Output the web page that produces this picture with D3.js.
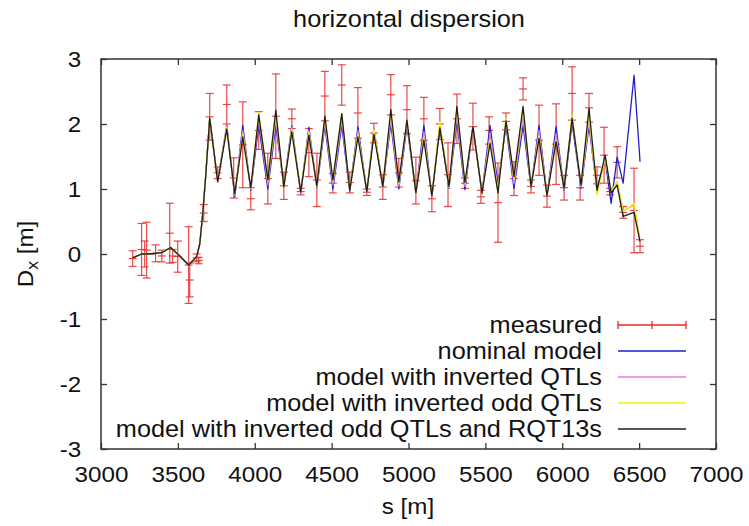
<!DOCTYPE html>
<html>
<head>
<meta charset="utf-8">
<script src="https://cdn.jsdelivr.net/npm/d3@7"></script>
<style>
  body { margin: 0; background: #fff; }
  text { font-family: "Liberation Sans", Arial, sans-serif; fill: #111; }
</style>
</head>
<body>
<script>
"use strict";

// s positions of the model optics (m)
var sModel = [3206, 3264, 3316, 3395, 3453, 3512, 3570, 3622, 3642, 3661, 3681,
  3707, 3759, 3818, 3870, 3922, 3974, 4026, 4085, 4137, 4189,
  4241, 4299, 4352, 4404, 4456, 4508, 4566, 4618, 4671, 4729,
  4775, 4833, 4885, 4937, 4990, 5048, 5100, 5152, 5204, 5263,
  5315, 5367, 5419, 5478, 5530, 5582, 5634, 5686, 5745, 5797,
  5849, 5901, 5960, 6012, 6064, 6122, 6174, 6226, 6279, 6318,
  6357, 6396, 6467, 6506];

// upstream part, identical for all models
var dxUpstream = [-0.06, 0.0, 0.0, 0.02, 0.1, -0.03, -0.17, -0.04, 0.15, 0.6, 1.2];

var dxNominal = dxUpstream.concat([
  2.09, 1.13, 1.98, 0.88, 1.98, 0.98, 1.98, 1.0, 1.98, 1.05,
  1.97, 0.94, 1.95, 1.02, 1.98, 1.0, 1.98, 0.97, 1.96, 0.95,
  1.93, 1.03, 2.0, 1.0, 1.98, 0.94, 1.98, 0.88, 1.97, 1.01,
  2.05, 0.99, 1.96, 0.93, 1.98, 1.07, 1.98, 1.01, 1.98, 1.02,
  1.98, 0.9, 1.96, 0.98, 2.02, 1.01, 1.97, 0.99, 1.45, 0.78,
  1.49, 1.09, 2.75, 1.42]);

var dxInvQTL = dxUpstream.concat([
  2.09, 1.12, 1.96, 0.9, 1.9, 1.0, 2.08, 1.06, 2.08, 1.04,
  1.95, 0.95, 1.9, 1.03, 2.04, 1.06, 2.06, 0.98, 1.9, 0.95,
  1.93, 1.03, 2.08, 1.04, 2.02, 0.94, 1.88, 0.89, 2.0, 1.02,
  2.14, 1.04, 1.96, 0.93, 1.85, 1.0, 2.04, 1.08, 2.1, 1.03,
  1.9, 0.9, 1.85, 0.99, 2.08, 1.03, 2.05, 0.95, 1.47, 0.95,
  1.1, 0.66, 0.76, 0.2]);

var dxInvOdd = dxUpstream.concat([
  2.09, 1.12, 1.95, 0.92, 1.85, 1.01, 2.18, 1.12, 2.15, 1.02,
  1.92, 0.97, 1.88, 1.04, 2.10, 1.12, 2.15, 0.99, 1.84, 0.96,
  1.92, 1.03, 2.17, 1.08, 2.06, 0.93, 1.80, 0.90, 2.04, 1.03,
  2.24, 1.08, 1.97, 0.94, 1.75, 0.96, 2.09, 1.15, 2.22, 1.04,
  1.82, 0.91, 1.76, 1.0, 2.14, 1.05, 2.14, 0.91, 1.48, 0.96,
  1.12, 0.65, 0.78, 0.21]);

var dxInvOddRQT = dxUpstream.concat([
  2.09, 1.11, 1.92, 0.93, 1.80, 1.02, 2.14, 1.14, 2.21, 1.03,
  1.88, 0.96, 1.83, 1.05, 2.12, 1.14, 2.16, 0.98, 1.80, 0.96,
  1.84, 1.04, 2.22, 1.11, 2.06, 0.94, 1.75, 0.90, 1.94, 1.04,
  2.27, 1.10, 1.96, 0.94, 1.70, 0.94, 2.05, 1.19, 2.27, 1.04,
  1.78, 0.90, 1.73, 1.01, 2.09, 1.06, 2.24, 0.98, 1.52, 0.94,
  1.06, 0.58, 0.64, 0.19]);

// measured dispersion with errors
var sMeas = [3206, 3264, 3284, 3297, 3355, 3395, 3447, 3466, 3499, 3570,
  3577, 3622, 3635, 3668, 3707, 3759, 3818, 3863, 3922, 3974,
  4026, 4085, 4137, 4189, 4241, 4299, 4352, 4404, 4456, 4508,
  4566, 4618, 4671, 4729, 4775, 4833, 4885, 4937, 4990, 5048,
  5100, 5152, 5204, 5257, 5315, 5367, 5419, 5471, 5524, 5582,
  5634, 5686, 5745, 5797, 5849, 5901, 5960, 6012, 6064, 6116,
  6174, 6226, 6272, 6311, 6357, 6396, 6467, 6506];
var dxMeas = [-0.07, 0.07, 0.0, 0.06, 0.01, -0.03, 0.32, -0.03, -0.04, -0.17,
  -0.4, -0.06, -0.1, 0.63, 2.11, 1.25, 2.3, 1.17, 1.68, 0.85,
  1.9, 1.16, 2.12, 1.05, 2.08, 0.96, 1.56, 1.14, 2.43, 1.09,
  2.6, 1.1, 2.17, 0.95, 1.86, 1.03, 2.45, 1.25, 2.22, 1.13,
  2.08, 0.85, 2.0, 1.22, 2.08, 1.09, 1.96, 0.88, 1.9, 0.79,
  2.04, 1.16, 2.54, 1.04, 1.75, 0.89, 1.69, 1.02, 2.47, 1.02,
  2.25, 1.21, 1.52, 0.96, 1.41, 0.64, 0.67, 0.12];
var errMeas = [0.12, 0.40, 0.2, 0.43, 0.13, 0.09, 0.46, 0.1, 0.24, 0.59,
  0.26, 0.06, 0.05, 0.13, 0.36, 0.09, 0.3, 0.31, 0.66, 0.17,
  0.29, 0.39, 0.65, 0.21, 0.15, 0.05, 0.37, 0.41, 0.38, 0.15,
  0.31, 0.16, 0.39, 0.05, 0.15, 0.19, 0.31, 0.22, 0.37, 0.36,
  0.33, 0.2, 0.24, 0.49, 0.38, 0.08, 0.36, 0.1, 0.21, 0.61,
  0.13, 0.26, 0.17, 0.1, 0.54, 0.17, 0.62, 0.19, 0.41, 0.19,
  0.22, 0.13, 0.43, 0.05, 0.24, 0.09, 0.65, 0.1];

var xTicks = [3000, 3500, 4000, 4500, 5000, 5500, 6000, 6500, 7000];
var yTicks = [-3, -2, -1, 0, 1, 2, 3];

var legendLabels = ["measured", "nominal model", "model with inverted QTLs",
  "model with inverted odd QTLs", "model with inverted odd QTLs and RQT13s"];
var seriesColors = ["#e62a2a", "#2020c8", "#e07ee0", "#f2f200", "#1e1e1e"];

// the picture is slightly stretched horizontally
var stretch = "scale(1.1,1)";

var margin = {top: 59, right: 33, bottom: 77, left: 101},
    width = 749 - margin.left - margin.right,
    height = 526 - margin.top - margin.bottom;

var x = d3.scaleLinear().domain([3000, 7000]).range([0, width]);
var y = d3.scaleLinear().domain([-3, 3]).range([height, 0]);

var svg = d3.select("body").append("svg")
    .attr("width", 749)
    .attr("height", 526);

var g = svg.append("g")
    .attr("transform", "translate(" + margin.left + "," + margin.top + ")");

// plain labels, hyphen for minus like gnuplot
var plain = function(d) { return String(d); };

// axes, ticks pointing inward, mirrored on top and right
var xAxis = d3.axisBottom(x).tickValues(xTicks).tickFormat(plain)
    .tickSizeInner(-6).tickSizeOuter(0).tickPadding(17);
var yAxis = d3.axisLeft(y).tickValues(yTicks).tickFormat(plain)
    .tickSizeInner(-6).tickSizeOuter(0).tickPadding(18);

var gx = g.append("g").attr("transform", "translate(0," + height + ")").call(xAxis);
var gy = g.append("g").call(yAxis);
g.append("g").call(d3.axisTop(x).tickValues(xTicks).tickSizeInner(-6).tickSizeOuter(0).tickFormat(""));
g.append("g").attr("transform", "translate(" + width + ",0)")
  .call(d3.axisRight(y).tickValues(yTicks).tickSizeInner(-6).tickSizeOuter(0).tickFormat(""));

g.selectAll(".domain").remove();
g.selectAll(".tick line").attr("stroke", "#333").attr("stroke-width", 1.3);
[gx, gy].forEach(function(a) {
  a.selectAll("text")
    .attr("font-size", 22)
    .attr("font-family", "Liberation Sans, Arial, sans-serif")
    .attr("fill", "#111")
    .attr("transform", stretch);
});

// measured: error bars
var cap = 4;
var meas = sMeas.map(function(s, i) { return {s: s, d: dxMeas[i], e: errMeas[i]}; });
var gm = g.append("g")
    .attr("stroke", seriesColors[0])
    .attr("stroke-width", 1.2)
    .attr("stroke-opacity", 0.85);
meas.forEach(function(p) {
  var px = x(p.s), yt = y(p.d + p.e), yb = y(p.d - p.e), yc = y(p.d);
  gm.append("line").attr("x1", px).attr("x2", px).attr("y1", yt).attr("y2", yb);
  [yt, yb, yc].forEach(function(yy) {
    gm.append("line").attr("x1", px - cap).attr("x2", px + cap).attr("y1", yy).attr("y2", yy);
  });
});

// model lines
var line = d3.line()
    .x(function(d) { return x(d.s); })
    .y(function(d) { return y(d.v); });

var models = [dxNominal, dxInvQTL, dxInvOdd, dxInvOddRQT];
models.forEach(function(vals, k) {
  var data = sModel.map(function(s, i) { return {s: s, v: vals[i]}; });
  g.append("path")
    .datum(data)
    .attr("fill", "none")
    .attr("stroke", seriesColors[k + 1])
    .attr("stroke-width", 1.3)
    .attr("stroke-linejoin", "round")
    .attr("d", line);
});

// border
g.append("rect")
  .attr("width", width)
  .attr("height", height)
  .attr("fill", "none")
  .attr("stroke", "#333")
  .attr("stroke-width", 1.5);

// legend
var legTextX = 602 - margin.left,
    legLine = [618 - margin.left, 686 - margin.left],
    legY0 = 325 - margin.top,
    legStep = 26;
legendLabels.forEach(function(lbl, i) {
  var yy = legY0 + i * legStep;
  g.append("text")
    .attr("transform", "translate(" + legTextX + "," + (yy + 8) + ") " + stretch)
    .attr("text-anchor", "end")
    .attr("font-size", 23)
    .text(lbl);
  g.append("line")
    .attr("x1", legLine[0]).attr("x2", legLine[1])
    .attr("y1", yy).attr("y2", yy)
    .attr("stroke", seriesColors[i])
    .attr("stroke-width", 1.3);
  if (i === 0) {
    [legLine[0], (legLine[0] + legLine[1]) / 2, legLine[1]].forEach(function(xx) {
      g.append("line")
        .attr("x1", xx).attr("x2", xx)
        .attr("y1", yy - cap).attr("y2", yy + cap)
        .attr("stroke", seriesColors[0])
        .attr("stroke-width", 1.3);
    });
  }
});

// title and axis labels
svg.append("text")
  .attr("transform", "translate(409,27) " + stretch)
  .attr("text-anchor", "middle")
  .attr("font-size", 23)
  .text("horizontal dispersion");

svg.append("text")
  .attr("transform", "translate(408,514) " + stretch)
  .attr("text-anchor", "middle")
  .attr("font-size", 22)
  .text("s [m]");

var ylab = svg.append("text")
  .attr("transform", "translate(33,254) rotate(-90) " + stretch)
  .attr("text-anchor", "middle")
  .attr("font-size", 22);
ylab.append("tspan").text("D");
ylab.append("tspan").attr("font-size", 16).attr("dy", 5).text("x");
ylab.append("tspan").attr("dy", -5).text(" [m]");
</script>
</body>
</html>
